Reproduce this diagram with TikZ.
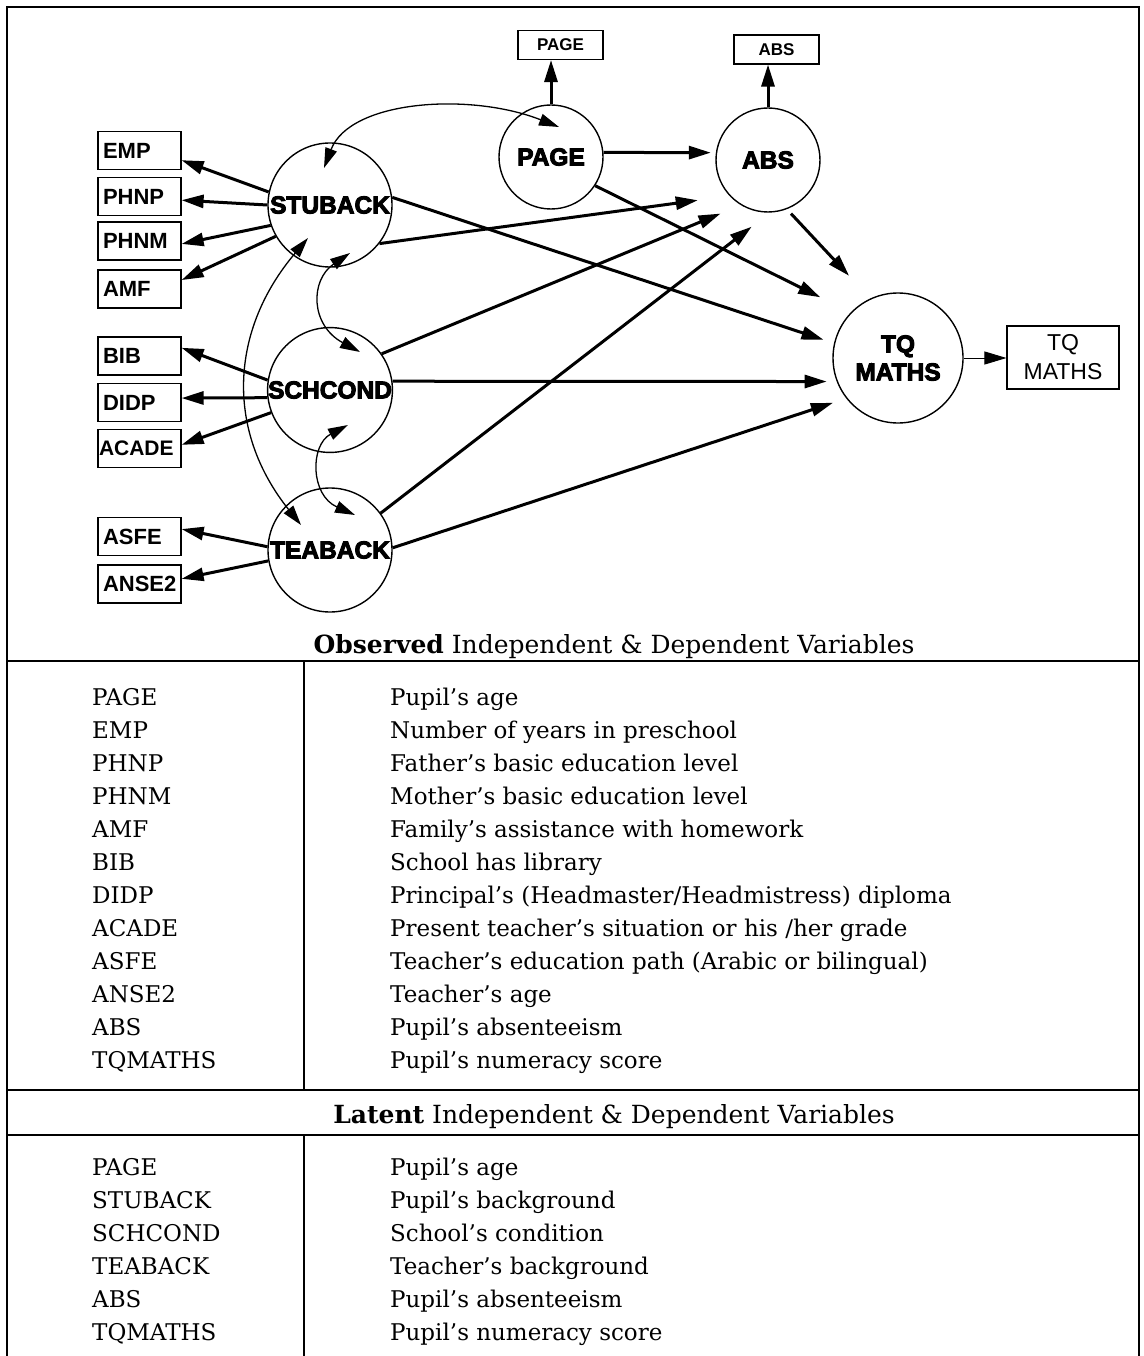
\documentclass[tikz,border=0pt]{standalone}
\usepackage{fontspec}
\setmainfont{DejaVu Serif}
\newfontfamily\boxfont{Liberation Sans}
\newfontfamily\heavyfont{Liberation Sans Bold}[FakeBold=4]
\usetikzlibrary{arrows.meta,calc}

\begin{document}
\begin{tikzpicture}[x=1pt,y=-1pt,
  latent/.style={circle, draw, line width=1.4pt, inner sep=0pt,
    font=\heavyfont\fontsize{24.5}{28}\selectfont},
  obs/.style={rectangle, draw, line width=1.2pt, minimum height=38pt,
    text width=73pt, inner xsep=5pt, inner ysep=0pt, align=left,
    font=\boxfont\bfseries\fontsize{22}{24}\selectfont},
  topbox/.style={rectangle, draw, line width=1.1pt, minimum width=85pt,
    minimum height=29pt, inner sep=0pt,
    font=\boxfont\bfseries\fontsize{17}{19}\selectfont},
  path/.style={line width=3pt, -{Triangle[length=22pt,width=13pt]}},
  thinpath/.style={line width=0.9pt, -{Triangle[length=22pt,width=13pt]}},
  cov/.style={line width=1.3pt,
    {Triangle[length=20pt,width=12pt]}-{Triangle[length=20pt,width=12pt]}},
  rule/.style={line width=1.3pt},
  tab/.style={anchor=base west, inner sep=0pt, font=\fontsize{23}{26}\selectfont},
  title/.style={anchor=base, inner sep=0pt, font=\fontsize{25}{28}\selectfont}
]
\useasboundingbox (0,0) rectangle (1143,1356);

% outer frame and table rules
\draw[rule] (7,1356) -- (7,7) -- (1139,7) -- (1139,1356);
\draw[rule] (7,661) -- (1139,661);
\draw[rule] (7,1090) -- (1139,1090);
\draw[rule] (7,1135) -- (1139,1135);
\draw[rule] (304,661) -- (304,1090);
\draw[rule] (304,1135) -- (304,1356);

% latent variables
\node[latent, minimum size=124pt] (stu) at (330,205) {STUBACK};
\node[latent, minimum size=124pt] (sch) at (330,390) {SCHCOND};
\node[latent, minimum size=124pt] (tea) at (330,550) {TEABACK};
\node[latent, minimum size=104pt] (page) at (551,157) {PAGE};
\node[latent, minimum size=104pt] (abs) at (768,160) {ABS};
\node[latent, minimum size=130pt, align=center] (tq) at (898,358) {TQ\\MATHS};

% observed indicators
\node[obs] (emp)   at (139.5,150.5) {EMP};
\node[obs] (phnp)  at (139.5,196.5) {PHNP};
\node[obs] (phnm)  at (139.5,241)   {PHNM};
\node[obs] (amf)   at (139.5,289)   {AMF};
\node[obs] (bib)   at (139.5,356)   {BIB};
\node[obs] (didp)  at (139.5,402.5) {DIDP};
\node[obs, inner xsep=1pt, text width=81pt, font=\boxfont\bfseries\fontsize{21}{24}\selectfont]
  (acade) at (139.5,448.5) {ACADE};
\node[obs] (asfe)  at (139.5,536.5) {ASFE};
\node[obs] (anse2) at (139.5,584)   {ANSE2};
\node[topbox] (pbox) at (560.5,45) {PAGE};
\node[topbox] (abox) at (776.5,49.5) {ABS};
\node[rectangle, draw, line width=1.1pt, minimum width=112pt, minimum height=63pt,
  inner sep=0pt, align=center, font=\boxfont\fontsize{23}{29}\selectfont]
  (tqbox) at (1063,357.5) {TQ\\MATHS};

% measurement paths
\draw[path] (stu.168) -- (emp.-13);
\draw[path] (stu.180) -- (phnp.-5);
\draw[path] (stu.199) -- (phnm.-4);
\draw[path] (stu.210) -- (amf.12);
\draw[path] (sch.171) -- (bib.11);
\draw[path] (sch.187) -- (didp.6);
\draw[path] (sch.201) -- (acade.5);
\draw[path] (tea.177) -- (asfe.10);
\draw[path] (tea.190) -- (anse2.7);
\draw[path] (page.north) -- (page.north |- pbox.south);
\draw[path] (abs.north) -- (abs.north |- abox.south);
\draw[thinpath] (tq.east) -- (tq.east -| tqbox.west);

% structural paths
\draw[path, shorten >=5pt] (page.5) -- (abs.172);
\draw[path, shorten >=34pt] (page.-33) -- (tq.136);
\draw[path, shorten <=6pt, shorten >=31pt] (abs.-69) -- (tq.115);
\draw[path, shorten >=11pt] (stu.7) -- (tq.167);
\draw[path, shorten >=10pt] (sch.8) -- (tq.201);
\draw[path, shorten >=14pt] (tea.2) -- (tq.218.5);
\draw[path, shorten >=32pt] (stu.-38) -- (abs.223);
\draw[path, shorten >=22pt] (sch.35) -- (abs.239);
\draw[path, shorten >=23pt] (tea.36) -- (abs.272);

% covariances
\draw[cov] ($(stu.center)+(-6,-37)$) .. controls ($(stu.center)+(20,-105)$)
  and ($(page.center)+(-81,-65)$) .. ($(page.center)+(8,-30)$);
\draw[cov] ($(stu.center)+(20,48)$) .. controls ($(stu.center)+(-20,75)$)
  and ($(sch.center)+(-20,-65)$) .. ($(sch.center)+(30,-38)$);
\draw[cov] ($(sch.center)+(18,35)$) .. controls ($(sch.center)+(-20,55)$)
  and ($(tea.center)+(-20,-55)$) .. ($(tea.center)+(25,-35)$);
\draw[cov] ($(stu.center)+(-22,33)$) .. controls ($(stu.center)+(-100,125)$)
  and ($(tea.center)+(-105,-120)$) .. ($(tea.center)+(-29,-25)$);

% legend tables
\node[title] (obstitle) at (614,653) {\textbf{Observed} Independent \& Dependent Variables};
\foreach \code/\desc [count=\i] in {
  {PAGE}/{Pupil's age},
  {EMP}/{Number of years in preschool},
  {PHNP}/{Father's basic education level},
  {PHNM}/{Mother's basic education level},
  {AMF}/{Family's assistance with homework},
  {BIB}/{School has library},
  {DIDP}/{Principal's (Headmaster/Headmistress) diploma},
  {ACADE}/{Present teacher's situation or his /her grade},
  {ASFE}/{Teacher's education path (Arabic or bilingual)},
  {ANSE2}/{Teacher's age},
  {ABS}/{Pupil's absenteeism},
  {TQMATHS}/{Pupil's numeracy score}} {
  \node[tab] (ocode\i) at (92,{672+33*\i}) {\code};
  \node[tab] (odesc\i) at (390,{672+33*\i}) {\desc};
}
\node[title] (lattitle) at (614,1123) {\textbf{Latent} Independent \& Dependent Variables};
\foreach \code/\desc [count=\i] in {
  {PAGE}/{Pupil's age},
  {STUBACK}/{Pupil's background},
  {SCHCOND}/{School's condition},
  {TEABACK}/{Teacher's background},
  {ABS}/{Pupil's absenteeism},
  {TQMATHS}/{Pupil's numeracy score}} {
  \node[tab] (lcode\i) at (92,{1142+33*\i}) {\code};
  \node[tab] (ldesc\i) at (390,{1142+33*\i}) {\desc};
}
\end{tikzpicture}
\end{document}
